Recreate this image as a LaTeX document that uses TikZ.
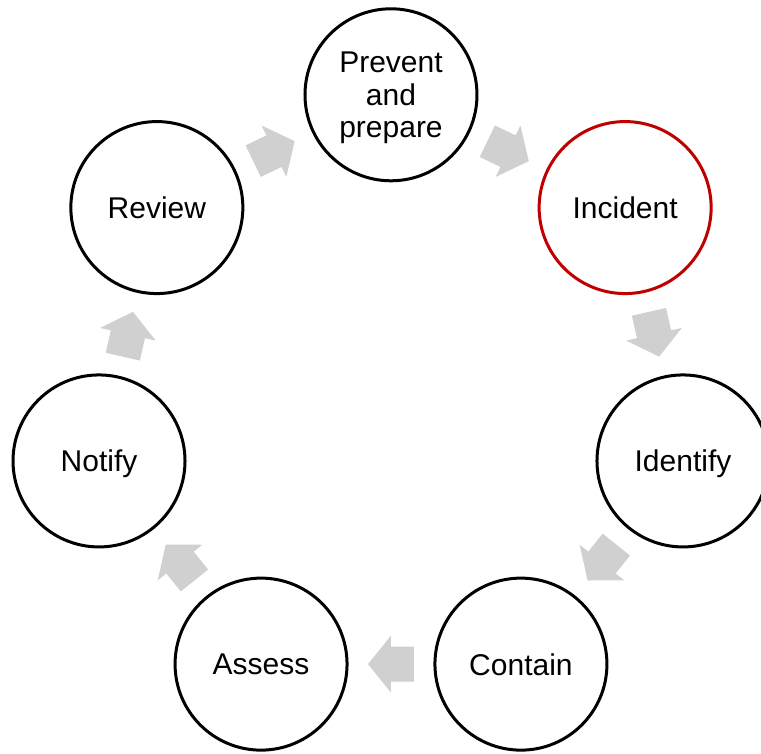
\documentclass[tikz,border=0pt]{standalone}
\usepackage{fontspec}
\setmainfont{Liberation Sans}
\usetikzlibrary{calc}
\definecolor{arrowgray}{RGB}{208,208,208}
\definecolor{incred}{RGB}{192,0,0}
\tikzset{
  stage/.style={circle, draw=black, line width=3pt, minimum size=172pt, inner sep=0pt,
    align=center, text depth=0pt, font=\fontsize{30}{32.5}\selectfont},
  redstage/.style={stage, draw=incred},
  pics/blockarrow/.style={code={
    \fill[arrowgray] (-23,-17.5) -- (0,-17.5) -- (0,-28.5) -- (23,0) -- (0,28.5) -- (0,17.5) -- (-23,17.5) -- cycle;}}
}
\begin{document}
\begin{tikzpicture}[x=1pt,y=1pt]
\clip (-391,-358.7) rectangle (370,394.3);
\fill[white] (-391,-358.7) rectangle (370,394.3);
\node[stage] (prevent) at (90:299.5) {Prevent\\and\\prepare};
\node[redstage] (incident) at (38.571:299.5) {Incident};
\node[stage] (identify) at (-12.857:299.5) {Identify};
\node[stage] (contain) at (-64.286:299.5) {Contain};
\node[stage] (assess) at (-115.714:299.5) {Assess};
\node[stage] (notify) at (-167.143:299.5) {Notify};
\node[stage] (review) at (141.429:299.5) {Review};
\pic[rotate=-25.714] at ($(prevent)!0.5!(incident)$) {blockarrow};
\pic[rotate=-77.143] at ($(incident)!0.5!(identify)$) {blockarrow};
\pic[rotate=-128.571] at ($(identify)!0.5!(contain)$) {blockarrow};
\pic[rotate=180] at ($(contain)!0.5!(assess)$) {blockarrow};
\pic[rotate=128.571] at ($(assess)!0.5!(notify)$) {blockarrow};
\pic[rotate=77.143] at ($(notify)!0.5!(review)$) {blockarrow};
\pic[rotate=25.714] at ($(review)!0.5!(prevent)$) {blockarrow};
\end{tikzpicture}
\end{document}
